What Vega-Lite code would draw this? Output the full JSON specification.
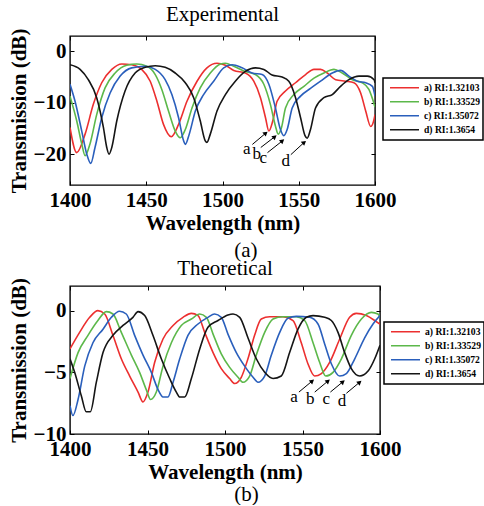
{
  "$schema": "https://vega.github.io/schema/vega-lite/v6.json",
  "background": "white",
  "padding": {"left": 7, "top": 3, "right": 0, "bottom": 0},
  "config": {
    "font": "Liberation Serif",
    "view": {"stroke": "black", "strokeWidth": 1.4},
    "axis": {
      "labelFont": "Liberation Serif", "labelFontWeight": "bold", "labelFontSize": 21, "labelColor": "black",
      "titleFont": "Liberation Serif", "titleFontWeight": "bold", "titleFontSize": 21, "titleColor": "black",
      "grid": false, "domain": false, "tickColor": "black", "tickSize": -4, "tickWidth": 1,
      "labelPadding": 8, "labelFlush": false, "labelOverlap": false, "format": "d"
    },
    "axisY": {"titlePadding": 4},
    "axisX": {"titlePadding": 2},
    "title": {"font": "Liberation Serif", "fontSize": 21, "fontWeight": "normal", "color": "black", "anchor": "middle"},
    "legend": {
      "orient": "none", "title": null,
      "symbolType": "stroke", "symbolSize": 841, "symbolStrokeWidth": 1.6, "clipHeight": 13.5,
      "rowPadding": 0, "padding": 3, "symbolOffset": 3, "labelOffset": 4,
      "labelFont": "Liberation Serif", "labelFontWeight": "bold", "labelFontSize": 9.6, "labelColor": "black",
      "strokeColor": "black", "strokeWidth": 1.5, "fillColor": "white"
    }
  },
  "datasets": {
    "exp": [
      {"wl":1400,"T":-14.8,"s":"a) RI:1.32103"},{"wl":1404.4,"T":-19.7,"s":"a) RI:1.32103"},{"wl":1409.9,"T":-16.1,"s":"a) RI:1.32103"},{"wl":1415.3,"T":-10.3,"s":"a) RI:1.32103"},{"wl":1420.8,"T":-6.1,"s":"a) RI:1.32103"},{"wl":1427.4,"T":-3.5,"s":"a) RI:1.32103"},{"wl":1434,"T":-2.45,"s":"a) RI:1.32103"},{"wl":1440.5,"T":-2.6,"s":"a) RI:1.32103"},{"wl":1447,"T":-3.5,"s":"a) RI:1.32103"},{"wl":1452.6,"T":-5.8,"s":"a) RI:1.32103"},{"wl":1457,"T":-9.7,"s":"a) RI:1.32103"},{"wl":1461.3,"T":-14.2,"s":"a) RI:1.32103"},{"wl":1466.4,"T":-16.6,"s":"a) RI:1.32103"},{"wl":1471.2,"T":-14.2,"s":"a) RI:1.32103"},{"wl":1476.7,"T":-9.7,"s":"a) RI:1.32103"},{"wl":1483.3,"T":-5.8,"s":"a) RI:1.32103"},{"wl":1489.8,"T":-3.2,"s":"a) RI:1.32103"},{"wl":1496.4,"T":-2.3,"s":"a) RI:1.32103"},{"wl":1501.9,"T":-2.7,"s":"a) RI:1.32103"},{"wl":1507.4,"T":-3.7,"s":"a) RI:1.32103"},{"wl":1515,"T":-4.2,"s":"a) RI:1.32103"},{"wl":1520.5,"T":-5.8,"s":"a) RI:1.32103"},{"wl":1524.9,"T":-9.0,"s":"a) RI:1.32103"},{"wl":1528.2,"T":-12.9,"s":"a) RI:1.32103"},{"wl":1530.4,"T":-15.5,"s":"a) RI:1.32103"},{"wl":1533,"T":-13.5,"s":"a) RI:1.32103"},{"wl":1535.8,"T":-9.7,"s":"a) RI:1.32103"},{"wl":1541.3,"T":-7.7,"s":"a) RI:1.32103"},{"wl":1547.9,"T":-6.1,"s":"a) RI:1.32103"},{"wl":1554.5,"T":-4.5,"s":"a) RI:1.32103"},{"wl":1560,"T":-3.5,"s":"a) RI:1.32103"},{"wl":1564.3,"T":-3.5,"s":"a) RI:1.32103"},{"wl":1568.7,"T":-4.2,"s":"a) RI:1.32103"},{"wl":1574.2,"T":-5.5,"s":"a) RI:1.32103"},{"wl":1580.7,"T":-5.8,"s":"a) RI:1.32103"},{"wl":1586.2,"T":-6.1,"s":"a) RI:1.32103"},{"wl":1590.6,"T":-8.1,"s":"a) RI:1.32103"},{"wl":1593.9,"T":-11.6,"s":"a) RI:1.32103"},{"wl":1597.2,"T":-14.6,"s":"a) RI:1.32103"},{"wl":1599.4,"T":-13.2,"s":"a) RI:1.32103"},{"wl":1600,"T":-12.3,"s":"a) RI:1.32103"},
      {"wl":1400,"T":-8.7,"s":"b) RI:1.33529"},{"wl":1404.4,"T":-13.5,"s":"b) RI:1.33529"},{"wl":1407.7,"T":-18,"s":"b) RI:1.33529"},{"wl":1409.9,"T":-20.3,"s":"b) RI:1.33529"},{"wl":1413.1,"T":-18,"s":"b) RI:1.33529"},{"wl":1417.5,"T":-12.3,"s":"b) RI:1.33529"},{"wl":1423,"T":-7.1,"s":"b) RI:1.33529"},{"wl":1429.6,"T":-4.2,"s":"b) RI:1.33529"},{"wl":1437.2,"T":-2.7,"s":"b) RI:1.33529"},{"wl":1443.8,"T":-2.45,"s":"b) RI:1.33529"},{"wl":1450.4,"T":-2.9,"s":"b) RI:1.33529"},{"wl":1455.9,"T":-4.5,"s":"b) RI:1.33529"},{"wl":1460.2,"T":-7.4,"s":"b) RI:1.33529"},{"wl":1464.6,"T":-11.6,"s":"b) RI:1.33529"},{"wl":1469,"T":-15.5,"s":"b) RI:1.33529"},{"wl":1472.3,"T":-16.8,"s":"b) RI:1.33529"},{"wl":1475.6,"T":-15.2,"s":"b) RI:1.33529"},{"wl":1480,"T":-11,"s":"b) RI:1.33529"},{"wl":1485.4,"T":-7.1,"s":"b) RI:1.33529"},{"wl":1492,"T":-4.2,"s":"b) RI:1.33529"},{"wl":1498.6,"T":-2.45,"s":"b) RI:1.33529"},{"wl":1501.9,"T":-2.3,"s":"b) RI:1.33529"},{"wl":1507.4,"T":-2.9,"s":"b) RI:1.33529"},{"wl":1515,"T":-3.9,"s":"b) RI:1.33529"},{"wl":1521.6,"T":-4.5,"s":"b) RI:1.33529"},{"wl":1527.1,"T":-6.4,"s":"b) RI:1.33529"},{"wl":1531.4,"T":-10.3,"s":"b) RI:1.33529"},{"wl":1534.7,"T":-14.5,"s":"b) RI:1.33529"},{"wl":1536.5,"T":-16.1,"s":"b) RI:1.33529"},{"wl":1538.7,"T":-14.8,"s":"b) RI:1.33529"},{"wl":1541.3,"T":-11,"s":"b) RI:1.33529"},{"wl":1546.8,"T":-8.4,"s":"b) RI:1.33529"},{"wl":1553.4,"T":-6.8,"s":"b) RI:1.33529"},{"wl":1560,"T":-5.2,"s":"b) RI:1.33529"},{"wl":1566.5,"T":-4.2,"s":"b) RI:1.33529"},{"wl":1573.1,"T":-3.5,"s":"b) RI:1.33529"},{"wl":1578.5,"T":-4.2,"s":"b) RI:1.33529"},{"wl":1585.1,"T":-5.5,"s":"b) RI:1.33529"},{"wl":1591.7,"T":-6.1,"s":"b) RI:1.33529"},{"wl":1596,"T":-7.4,"s":"b) RI:1.33529"},{"wl":1600,"T":-10.8,"s":"b) RI:1.33529"},
      {"wl":1400,"T":-6.4,"s":"c) RI:1.35072"},{"wl":1403.3,"T":-9.7,"s":"c) RI:1.35072"},{"wl":1407.7,"T":-15.5,"s":"c) RI:1.35072"},{"wl":1411,"T":-20,"s":"c) RI:1.35072"},{"wl":1413.6,"T":-21.8,"s":"c) RI:1.35072"},{"wl":1416.4,"T":-18.7,"s":"c) RI:1.35072"},{"wl":1420.8,"T":-12.9,"s":"c) RI:1.35072"},{"wl":1426.3,"T":-8.1,"s":"c) RI:1.35072"},{"wl":1432.9,"T":-4.8,"s":"c) RI:1.35072"},{"wl":1440.5,"T":-3.2,"s":"c) RI:1.35072"},{"wl":1449.3,"T":-2.9,"s":"c) RI:1.35072"},{"wl":1455.9,"T":-3.5,"s":"c) RI:1.35072"},{"wl":1462.4,"T":-5.5,"s":"c) RI:1.35072"},{"wl":1466.8,"T":-8.4,"s":"c) RI:1.35072"},{"wl":1471.2,"T":-12.9,"s":"c) RI:1.35072"},{"wl":1474.5,"T":-17.4,"s":"c) RI:1.35072"},{"wl":1475.6,"T":-18.1,"s":"c) RI:1.35072"},{"wl":1478.2,"T":-16.1,"s":"c) RI:1.35072"},{"wl":1482.2,"T":-11.6,"s":"c) RI:1.35072"},{"wl":1487.6,"T":-8.4,"s":"c) RI:1.35072"},{"wl":1494.2,"T":-5.8,"s":"c) RI:1.35072"},{"wl":1500.8,"T":-3.2,"s":"c) RI:1.35072"},{"wl":1506.3,"T":-2.6,"s":"c) RI:1.35072"},{"wl":1512.8,"T":-3.2,"s":"c) RI:1.35072"},{"wl":1519.4,"T":-4.2,"s":"c) RI:1.35072"},{"wl":1526,"T":-4.5,"s":"c) RI:1.35072"},{"wl":1530.4,"T":-6.4,"s":"c) RI:1.35072"},{"wl":1534.7,"T":-11,"s":"c) RI:1.35072"},{"wl":1538,"T":-15.2,"s":"c) RI:1.35072"},{"wl":1540.2,"T":-16.4,"s":"c) RI:1.35072"},{"wl":1542.4,"T":-15.2,"s":"c) RI:1.35072"},{"wl":1545.7,"T":-11,"s":"c) RI:1.35072"},{"wl":1551.2,"T":-8.7,"s":"c) RI:1.35072"},{"wl":1557.7,"T":-7.2,"s":"c) RI:1.35072"},{"wl":1564.3,"T":-5.8,"s":"c) RI:1.35072"},{"wl":1572,"T":-4.2,"s":"c) RI:1.35072"},{"wl":1577.4,"T":-3.7,"s":"c) RI:1.35072"},{"wl":1582.9,"T":-4.8,"s":"c) RI:1.35072"},{"wl":1588.4,"T":-5.8,"s":"c) RI:1.35072"},{"wl":1593.9,"T":-6.1,"s":"c) RI:1.35072"},{"wl":1598.3,"T":-6.8,"s":"c) RI:1.35072"},{"wl":1600,"T":-8.7,"s":"c) RI:1.35072"},
      {"wl":1400,"T":-2.6,"s":"d) RI:1.3654"},{"wl":1406.6,"T":-3.5,"s":"d) RI:1.3654"},{"wl":1412,"T":-5.5,"s":"d) RI:1.3654"},{"wl":1417.5,"T":-9,"s":"d) RI:1.3654"},{"wl":1421.9,"T":-14.8,"s":"d) RI:1.3654"},{"wl":1424.1,"T":-18.7,"s":"d) RI:1.3654"},{"wl":1425.6,"T":-20,"s":"d) RI:1.3654"},{"wl":1427.4,"T":-18.7,"s":"d) RI:1.3654"},{"wl":1430.7,"T":-13.5,"s":"d) RI:1.3654"},{"wl":1436.1,"T":-7.7,"s":"d) RI:1.3654"},{"wl":1442.7,"T":-4.2,"s":"d) RI:1.3654"},{"wl":1449.3,"T":-3.1,"s":"d) RI:1.3654"},{"wl":1455.9,"T":-2.8,"s":"d) RI:1.3654"},{"wl":1462.4,"T":-3.1,"s":"d) RI:1.3654"},{"wl":1469,"T":-4.2,"s":"d) RI:1.3654"},{"wl":1475.6,"T":-6.1,"s":"d) RI:1.3654"},{"wl":1481.1,"T":-9,"s":"d) RI:1.3654"},{"wl":1485.4,"T":-13.5,"s":"d) RI:1.3654"},{"wl":1488.7,"T":-17.4,"s":"d) RI:1.3654"},{"wl":1489.8,"T":-17.7,"s":"d) RI:1.3654"},{"wl":1492,"T":-16.1,"s":"d) RI:1.3654"},{"wl":1496.4,"T":-11.6,"s":"d) RI:1.3654"},{"wl":1501.9,"T":-8.4,"s":"d) RI:1.3654"},{"wl":1508.4,"T":-5.8,"s":"d) RI:1.3654"},{"wl":1515,"T":-3.9,"s":"d) RI:1.3654"},{"wl":1521.6,"T":-3.2,"s":"d) RI:1.3654"},{"wl":1527.1,"T":-3.5,"s":"d) RI:1.3654"},{"wl":1532.5,"T":-4.6,"s":"d) RI:1.3654"},{"wl":1539.1,"T":-5,"s":"d) RI:1.3654"},{"wl":1543.5,"T":-5.8,"s":"d) RI:1.3654"},{"wl":1547.9,"T":-9,"s":"d) RI:1.3654"},{"wl":1551.2,"T":-12.9,"s":"d) RI:1.3654"},{"wl":1554.1,"T":-16.4,"s":"d) RI:1.3654"},{"wl":1555.5,"T":-16.9,"s":"d) RI:1.3654"},{"wl":1557.7,"T":-15.2,"s":"d) RI:1.3654"},{"wl":1561,"T":-11,"s":"d) RI:1.3654"},{"wl":1566.5,"T":-9,"s":"d) RI:1.3654"},{"wl":1572,"T":-8.4,"s":"d) RI:1.3654"},{"wl":1577.4,"T":-6.8,"s":"d) RI:1.3654"},{"wl":1582.9,"T":-5.5,"s":"d) RI:1.3654"},{"wl":1589.5,"T":-4.8,"s":"d) RI:1.3654"},{"wl":1595,"T":-4.8,"s":"d) RI:1.3654"},{"wl":1599.4,"T":-5.5,"s":"d) RI:1.3654"},{"wl":1600,"T":-6.1,"s":"d) RI:1.3654"}
    ],
    "theo": [
      {"wl":1400,"T":-3.1,"s":"a) RI:1.32103"},{"wl":1406.2,"T":-1.76,"s":"a) RI:1.32103"},{"wl":1412.7,"T":-0.54,"s":"a) RI:1.32103"},{"wl":1418,"T":0,"s":"a) RI:1.32103"},{"wl":1422.4,"T":-0.27,"s":"a) RI:1.32103"},{"wl":1427.7,"T":-2,"s":"a) RI:1.32103"},{"wl":1433.1,"T":-3.9,"s":"a) RI:1.32103"},{"wl":1438.5,"T":-5.3,"s":"a) RI:1.32103"},{"wl":1443.9,"T":-6.6,"s":"a) RI:1.32103"},{"wl":1447.1,"T":-7.4,"s":"a) RI:1.32103"},{"wl":1450.3,"T":-6.6,"s":"a) RI:1.32103"},{"wl":1454.6,"T":-4.2,"s":"a) RI:1.32103"},{"wl":1460,"T":-2.3,"s":"a) RI:1.32103"},{"wl":1466.5,"T":-1.2,"s":"a) RI:1.32103"},{"wl":1472.9,"T":-0.54,"s":"a) RI:1.32103"},{"wl":1478.3,"T":-0.22,"s":"a) RI:1.32103"},{"wl":1482.6,"T":-0.4,"s":"a) RI:1.32103"},{"wl":1486.9,"T":-1.76,"s":"a) RI:1.32103"},{"wl":1492.3,"T":-3.4,"s":"a) RI:1.32103"},{"wl":1497.6,"T":-4.7,"s":"a) RI:1.32103"},{"wl":1503,"T":-5.5,"s":"a) RI:1.32103"},{"wl":1506.2,"T":-5.9,"s":"a) RI:1.32103"},{"wl":1510.5,"T":-5.4,"s":"a) RI:1.32103"},{"wl":1514.8,"T":-3.9,"s":"a) RI:1.32103"},{"wl":1519.1,"T":-2,"s":"a) RI:1.32103"},{"wl":1523.4,"T":-0.68,"s":"a) RI:1.32103"},{"wl":1528.8,"T":-0.49,"s":"a) RI:1.32103"},{"wl":1537.4,"T":-0.49,"s":"a) RI:1.32103"},{"wl":1543.9,"T":-0.8,"s":"a) RI:1.32103"},{"wl":1549.2,"T":-2.6,"s":"a) RI:1.32103"},{"wl":1553.5,"T":-4.3,"s":"a) RI:1.32103"},{"wl":1557.8,"T":-5.3,"s":"a) RI:1.32103"},{"wl":1562.2,"T":-5.1,"s":"a) RI:1.32103"},{"wl":1567.5,"T":-4.2,"s":"a) RI:1.32103"},{"wl":1574,"T":-2.3,"s":"a) RI:1.32103"},{"wl":1580.4,"T":-0.54,"s":"a) RI:1.32103"},{"wl":1584.7,"T":-0.22,"s":"a) RI:1.32103"},{"wl":1591.2,"T":-0.4,"s":"a) RI:1.32103"},{"wl":1596.6,"T":-0.8,"s":"a) RI:1.32103"},{"wl":1600,"T":-1.1,"s":"a) RI:1.32103"},
      {"wl":1400,"T":-5.5,"s":"b) RI:1.33529"},{"wl":1405.2,"T":-3.4,"s":"b) RI:1.33529"},{"wl":1411.6,"T":-2,"s":"b) RI:1.33529"},{"wl":1418,"T":-0.8,"s":"b) RI:1.33529"},{"wl":1423.4,"T":-0.08,"s":"b) RI:1.33529"},{"wl":1427.7,"T":-0.27,"s":"b) RI:1.33529"},{"wl":1433.1,"T":-1.76,"s":"b) RI:1.33529"},{"wl":1439.6,"T":-3.6,"s":"b) RI:1.33529"},{"wl":1444.9,"T":-5,"s":"b) RI:1.33529"},{"wl":1449.2,"T":-6.4,"s":"b) RI:1.33529"},{"wl":1452,"T":-7.2,"s":"b) RI:1.33529"},{"wl":1455.7,"T":-6.6,"s":"b) RI:1.33529"},{"wl":1460,"T":-4.5,"s":"b) RI:1.33529"},{"wl":1465.4,"T":-2.6,"s":"b) RI:1.33529"},{"wl":1471.8,"T":-1.2,"s":"b) RI:1.33529"},{"wl":1478.3,"T":-0.68,"s":"b) RI:1.33529"},{"wl":1483.7,"T":-0.27,"s":"b) RI:1.33529"},{"wl":1488,"T":-0.54,"s":"b) RI:1.33529"},{"wl":1492.3,"T":-1.9,"s":"b) RI:1.33529"},{"wl":1497.6,"T":-3.5,"s":"b) RI:1.33529"},{"wl":1503,"T":-4.6,"s":"b) RI:1.33529"},{"wl":1508.4,"T":-5.4,"s":"b) RI:1.33529"},{"wl":1511.6,"T":-5.8,"s":"b) RI:1.33529"},{"wl":1515.9,"T":-5.3,"s":"b) RI:1.33529"},{"wl":1520.2,"T":-3.6,"s":"b) RI:1.33529"},{"wl":1525.6,"T":-1.76,"s":"b) RI:1.33529"},{"wl":1531,"T":-0.68,"s":"b) RI:1.33529"},{"wl":1537.4,"T":-0.49,"s":"b) RI:1.33529"},{"wl":1546,"T":-0.49,"s":"b) RI:1.33529"},{"wl":1551.4,"T":-0.8,"s":"b) RI:1.33529"},{"wl":1556.8,"T":-2.6,"s":"b) RI:1.33529"},{"wl":1561.1,"T":-4.2,"s":"b) RI:1.33529"},{"wl":1565,"T":-5.3,"s":"b) RI:1.33529"},{"wl":1569.7,"T":-5,"s":"b) RI:1.33529"},{"wl":1575.1,"T":-3.9,"s":"b) RI:1.33529"},{"wl":1581.5,"T":-2,"s":"b) RI:1.33529"},{"wl":1588,"T":-0.68,"s":"b) RI:1.33529"},{"wl":1594.4,"T":-0.14,"s":"b) RI:1.33529"},{"wl":1598.7,"T":-0.27,"s":"b) RI:1.33529"},{"wl":1600,"T":-0.54,"s":"b) RI:1.33529"},
      {"wl":1400,"T":-7.7,"s":"c) RI:1.35072"},{"wl":1401.9,"T":-8.5,"s":"c) RI:1.35072"},{"wl":1405.2,"T":-7.2,"s":"c) RI:1.35072"},{"wl":1409.5,"T":-4.5,"s":"c) RI:1.35072"},{"wl":1414.8,"T":-2.6,"s":"c) RI:1.35072"},{"wl":1421.3,"T":-1.5,"s":"c) RI:1.35072"},{"wl":1426.7,"T":-0.54,"s":"c) RI:1.35072"},{"wl":1432,"T":-0.05,"s":"c) RI:1.35072"},{"wl":1436.3,"T":-0.27,"s":"c) RI:1.35072"},{"wl":1441.7,"T":-2,"s":"c) RI:1.35072"},{"wl":1447.1,"T":-3.6,"s":"c) RI:1.35072"},{"wl":1452.5,"T":-5,"s":"c) RI:1.35072"},{"wl":1456.8,"T":-6.4,"s":"c) RI:1.35072"},{"wl":1460,"T":-7,"s":"c) RI:1.35072"},{"wl":1463.2,"T":-7,"s":"c) RI:1.35072"},{"wl":1466.5,"T":-5.8,"s":"c) RI:1.35072"},{"wl":1470.8,"T":-3.9,"s":"c) RI:1.35072"},{"wl":1476.1,"T":-2,"s":"c) RI:1.35072"},{"wl":1482.6,"T":-1.08,"s":"c) RI:1.35072"},{"wl":1489,"T":-0.54,"s":"c) RI:1.35072"},{"wl":1493.3,"T":-0.27,"s":"c) RI:1.35072"},{"wl":1497.6,"T":-0.54,"s":"c) RI:1.35072"},{"wl":1501.9,"T":-1.9,"s":"c) RI:1.35072"},{"wl":1507.3,"T":-3.4,"s":"c) RI:1.35072"},{"wl":1512.7,"T":-4.5,"s":"c) RI:1.35072"},{"wl":1518.1,"T":-5.4,"s":"c) RI:1.35072"},{"wl":1521.3,"T":-5.8,"s":"c) RI:1.35072"},{"wl":1525.6,"T":-5.3,"s":"c) RI:1.35072"},{"wl":1529.9,"T":-3.6,"s":"c) RI:1.35072"},{"wl":1535.3,"T":-1.76,"s":"c) RI:1.35072"},{"wl":1540.6,"T":-0.62,"s":"c) RI:1.35072"},{"wl":1546,"T":-0.46,"s":"c) RI:1.35072"},{"wl":1554.6,"T":-0.54,"s":"c) RI:1.35072"},{"wl":1560,"T":-1.08,"s":"c) RI:1.35072"},{"wl":1564.3,"T":-2.7,"s":"c) RI:1.35072"},{"wl":1568.6,"T":-4.3,"s":"c) RI:1.35072"},{"wl":1574,"T":-5.3,"s":"c) RI:1.35072"},{"wl":1578.3,"T":-5.1,"s":"c) RI:1.35072"},{"wl":1583.7,"T":-3.9,"s":"c) RI:1.35072"},{"wl":1590.1,"T":-2.2,"s":"c) RI:1.35072"},{"wl":1595.5,"T":-1.08,"s":"c) RI:1.35072"},{"wl":1600,"T":-0.4,"s":"c) RI:1.35072"},
      {"wl":1400,"T":-3.9,"s":"d) RI:1.3654"},{"wl":1403,"T":-5,"s":"d) RI:1.3654"},{"wl":1407.3,"T":-6.9,"s":"d) RI:1.3654"},{"wl":1410.5,"T":-8.2,"s":"d) RI:1.3654"},{"wl":1413.1,"T":-8.2,"s":"d) RI:1.3654"},{"wl":1417,"T":-5.8,"s":"d) RI:1.3654"},{"wl":1421.3,"T":-3.4,"s":"d) RI:1.3654"},{"wl":1427.7,"T":-2,"s":"d) RI:1.3654"},{"wl":1434.2,"T":-1.2,"s":"d) RI:1.3654"},{"wl":1440.6,"T":-0.54,"s":"d) RI:1.3654"},{"wl":1443.9,"T":-0.08,"s":"d) RI:1.3654"},{"wl":1448.2,"T":-0.4,"s":"d) RI:1.3654"},{"wl":1453.5,"T":-2,"s":"d) RI:1.3654"},{"wl":1458.9,"T":-3.9,"s":"d) RI:1.3654"},{"wl":1464.3,"T":-5.5,"s":"d) RI:1.3654"},{"wl":1468.6,"T":-6.6,"s":"d) RI:1.3654"},{"wl":1470.8,"T":-7,"s":"d) RI:1.3654"},{"wl":1474,"T":-7,"s":"d) RI:1.3654"},{"wl":1478.3,"T":-5.5,"s":"d) RI:1.3654"},{"wl":1483.7,"T":-3.1,"s":"d) RI:1.3654"},{"wl":1489,"T":-1.35,"s":"d) RI:1.3654"},{"wl":1495.5,"T":-0.8,"s":"d) RI:1.3654"},{"wl":1501.9,"T":-0.35,"s":"d) RI:1.3654"},{"wl":1505.2,"T":-0.27,"s":"d) RI:1.3654"},{"wl":1509.5,"T":-0.54,"s":"d) RI:1.3654"},{"wl":1514.8,"T":-2.2,"s":"d) RI:1.3654"},{"wl":1520.2,"T":-3.9,"s":"d) RI:1.3654"},{"wl":1525.6,"T":-5,"s":"d) RI:1.3654"},{"wl":1531,"T":-5.5,"s":"d) RI:1.3654"},{"wl":1536.3,"T":-5.3,"s":"d) RI:1.3654"},{"wl":1541.7,"T":-3.4,"s":"d) RI:1.3654"},{"wl":1547.1,"T":-1.5,"s":"d) RI:1.3654"},{"wl":1552.5,"T":-0.54,"s":"d) RI:1.3654"},{"wl":1556.8,"T":-0.4,"s":"d) RI:1.3654"},{"wl":1564.3,"T":-0.54,"s":"d) RI:1.3654"},{"wl":1568.6,"T":-0.8,"s":"d) RI:1.3654"},{"wl":1572.9,"T":-1.76,"s":"d) RI:1.3654"},{"wl":1577.2,"T":-3.4,"s":"d) RI:1.3654"},{"wl":1581.5,"T":-4.7,"s":"d) RI:1.3654"},{"wl":1586.9,"T":-5.3,"s":"d) RI:1.3654"},{"wl":1592.3,"T":-4.9,"s":"d) RI:1.3654"},{"wl":1596.6,"T":-3.9,"s":"d) RI:1.3654"},{"wl":1600,"T":-2.8,"s":"d) RI:1.3654"}
    ],
    "annExp": [
      {"label":"a","lx":1515.9,"ly":-19.0,"x1":1519.6,"y1":-18.1,"x2":1528.4,"y2":-15.9},
      {"label":"b","lx":1522.5,"ly":-19.9,"x1":1525.1,"y1":-18.7,"x2":1534.3,"y2":-16.6},
      {"label":"c","lx":1526.8,"ly":-20.8,"x1":1529.5,"y1":-19.7,"x2":1539.3,"y2":-17.4},
      {"label":"d","lx":1541.5,"ly":-21.3,"x1":1544.8,"y1":-20.1,"x2":1553.6,"y2":-17.7}
    ],
    "annTheo": [
      {"label":"a","lx":1544.5,"ly":-7.0,"x1":1547.7,"y1":-6.6,"x2":1556.3,"y2":-5.7},
      {"label":"b","lx":1555.0,"ly":-7.2,"x1":1557.9,"y1":-6.6,"x2":1566.5,"y2":-5.7},
      {"label":"c","lx":1565.4,"ly":-7.2,"x1":1568.0,"y1":-6.6,"x2":1576.1,"y2":-5.76},
      {"label":"d","lx":1575.5,"ly":-7.3,"x1":1578.3,"y1":-6.7,"x2":1586.9,"y2":-5.8}
    ]
  },
  "spacing": -5,
  "resolve": {"scale": {"color": "independent"}},
  "vconcat": [
    {
      "title": {"text": "(a)", "orient": "bottom", "offset": 6},
      "resolve": {"scale": {"color": "independent"}},
      "vconcat": [
        {
          "title": {"text": "Experimental", "offset": 3},
          "width": 305, "height": 149,
          "resolve": {"axis": {"x": "independent", "y": "independent"}},
          "layer": [
            {
              "data": {"name": "exp"},
              "mark": {"type": "line", "interpolate": "monotone", "strokeWidth": 1.6, "clip": true},
              "encoding": {
                "x": {"field": "wl", "type": "quantitative", "scale": {"domain": [1400, 1600], "nice": false, "zero": false}, "axis": {"values": [1400, 1450, 1500, 1550, 1600], "title": "Wavelength (nm)"}},
                "y": {"field": "T", "type": "quantitative", "scale": {"domain": [-26, 3], "nice": false, "zero": false}, "axis": {"values": [-20, -10, 0], "title": "Transmission (dB)"}},
                "color": {"field": "s", "type": "nominal", "scale": {"domain": ["a) RI:1.32103", "b) RI:1.33529", "c) RI:1.35072", "d) RI:1.3654"], "range": ["#ec2f2f", "#5cb84a", "#2a5fbc", "#151515"]}, "legend": {"legendX": 313, "legendY": 42}}
              }
            },
            {
              "data": {"name": "annExp"},
              "mark": {"type": "rule", "color": "black", "strokeWidth": 1},
              "encoding": {
                "x": {"field": "x1", "type": "quantitative", "axis": {"orient": "top", "values": [1400, 1450, 1500, 1550, 1600], "labels": false, "title": null}},
                "y": {"field": "y1", "type": "quantitative", "axis": {"orient": "right", "values": [-20, -10, 0], "labels": false, "title": null}},
                "x2": {"field": "x2"}, "y2": {"field": "y2"}
              }
            },
            {
              "data": {"name": "annExp"},
              "mark": {"type": "point", "shape": "triangle-up", "filled": true, "color": "black", "opacity": 1, "size": 28, "angle": 50},
              "encoding": {"x": {"field": "x2", "type": "quantitative", "axis": null}, "y": {"field": "y2", "type": "quantitative", "axis": null}}
            },
            {
              "data": {"name": "annExp"},
              "mark": {"type": "text", "font": "Liberation Serif", "fontSize": 17, "color": "black"},
              "encoding": {"x": {"field": "lx", "type": "quantitative", "axis": null}, "y": {"field": "ly", "type": "quantitative", "axis": null}, "text": {"field": "label"}}
            }
          ]
        }
      ]
    },
    {
      "title": {"text": "(b)", "orient": "bottom", "offset": 1},
      "resolve": {"scale": {"color": "independent"}},
      "vconcat": [
        {
          "title": {"text": "Theoretical", "offset": -1},
          "width": 310, "height": 148,
          "resolve": {"axis": {"x": "independent", "y": "independent"}},
          "layer": [
            {
              "data": {"name": "theo"},
              "mark": {"type": "line", "interpolate": "monotone", "strokeWidth": 1.6, "clip": true},
              "encoding": {
                "x": {"field": "wl", "type": "quantitative", "scale": {"domain": [1400, 1600], "nice": false, "zero": false}, "axis": {"values": [1400, 1450, 1500, 1550, 1600], "title": "Wavelength (nm)"}},
                "y": {"field": "T", "type": "quantitative", "scale": {"domain": [-10, 2], "nice": false, "zero": false}, "axis": {"values": [-10, -5, 0], "title": "Transmission (dB)"}},
                "color": {"field": "s", "type": "nominal", "scale": {"domain": ["a) RI:1.32103", "b) RI:1.33529", "c) RI:1.35072", "d) RI:1.3654"], "range": ["#ec2f2f", "#5cb84a", "#2a5fbc", "#151515"]}, "legend": {"legendX": 314, "legendY": 36}}
              }
            },
            {
              "data": {"name": "annTheo"},
              "mark": {"type": "rule", "color": "black", "strokeWidth": 1},
              "encoding": {
                "x": {"field": "x1", "type": "quantitative", "axis": {"orient": "top", "values": [1400, 1450, 1500, 1550, 1600], "labels": false, "title": null}},
                "y": {"field": "y1", "type": "quantitative", "axis": {"orient": "right", "values": [-10, -5, 0], "labels": false, "title": null}},
                "x2": {"field": "x2"}, "y2": {"field": "y2"}
              }
            },
            {
              "data": {"name": "annTheo"},
              "mark": {"type": "point", "shape": "triangle-up", "filled": true, "color": "black", "opacity": 1, "size": 28, "angle": 50},
              "encoding": {"x": {"field": "x2", "type": "quantitative", "axis": null}, "y": {"field": "y2", "type": "quantitative", "axis": null}}
            },
            {
              "data": {"name": "annTheo"},
              "mark": {"type": "text", "font": "Liberation Serif", "fontSize": 17, "color": "black"},
              "encoding": {"x": {"field": "lx", "type": "quantitative", "axis": null}, "y": {"field": "ly", "type": "quantitative", "axis": null}, "text": {"field": "label"}}
            }
          ]
        }
      ]
    }
  ]
}
